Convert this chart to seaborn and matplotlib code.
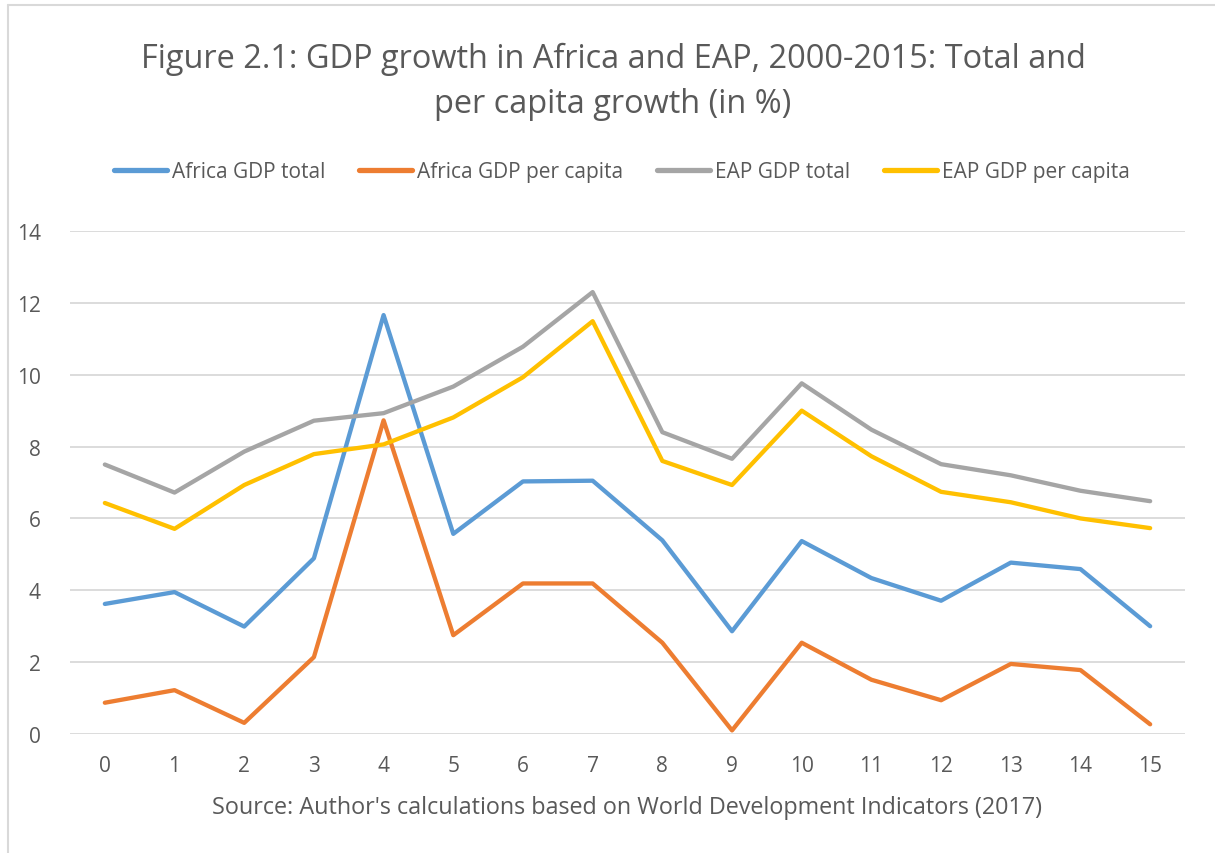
import numpy as np
import pandas as pd
import seaborn as sns
import matplotlib
matplotlib.use("Agg")
import matplotlib.pyplot as plt
from matplotlib.lines import Line2D

years = list(range(16))
africa_total = [3.62, 3.95, 2.99, 4.89, 11.66, 5.57, 7.03, 7.05, 5.39, 2.86, 5.37, 4.34, 3.71, 4.77, 4.59, 3.00]
africa_pc = [0.87, 1.22, 0.31, 2.14, 8.73, 2.75, 4.19, 4.19, 2.54, 0.10, 2.54, 1.51, 0.94, 1.95, 1.78, 0.27]
eap_total = [7.50, 6.72, 7.86, 8.72, 8.93, 9.67, 10.78, 12.30, 8.40, 7.66, 9.76, 8.47, 7.51, 7.20, 6.77, 6.48]
eap_pc = [6.43, 5.71, 6.93, 7.79, 8.06, 8.81, 9.93, 11.49, 7.60, 6.93, 9.00, 7.73, 6.74, 6.45, 6.00, 5.73]
series_names = ["Africa GDP total", "Africa GDP per capita", "EAP GDP total", "EAP GDP per capita"]
colors = ["#5B9BD5", "#ED7D31", "#A5A5A5", "#FFC000"]

df = pd.DataFrame({
    "year": years * 4,
    "value": africa_total + africa_pc + eap_total + eap_pc,
    "series": sum([[n] * len(years) for n in series_names], []),
})

sns.set_theme(style="white")
plt.rcParams['font.family'] = ['Open Sans', 'DejaVu Sans']

fig = plt.figure(figsize=(12.15, 8.54), dpi=100)
ax = fig.add_axes([70/1215, 1-735/854, (1185-70)/1215, (735-232)/854])

sns.lineplot(data=df, x="year", y="value", hue="series", hue_order=series_names,
             palette=colors, linewidth=3.1, ax=ax, legend=True)
for line in ax.get_lines():
    line.set_solid_capstyle('round')
    line.set_solid_joinstyle('round')

ax.set_xlim(-0.5, 15.5)
ax.set_ylim(0, 14)
ax.set_xticks(years)
ax.set_yticks(range(0, 15, 2))
ax.grid(axis='y', color='#D9D9D9', linewidth=1.3)
ax.set_axisbelow(True)
for s in ax.spines.values():
    s.set_visible(False)
ax.tick_params(axis='both', colors='#595959', labelsize=15, length=0)
ax.tick_params(axis='x', pad=15)
ax.tick_params(axis='y', pad=21)
ax.set_ylabel("")
ax.set_xlabel("Source: Author's calculations based on World Development Indicators (2017)",
              fontsize=16.8, color='#595959', labelpad=14)

handles, labels = ax.get_legend_handles_labels()
leg = ax.legend(handles, labels, loc='center',
                bbox_to_anchor=(0.495, (1-173/854 - (1-735/854)) / ((735-232)/854)),
                bbox_transform=ax.transAxes, ncol=4, frameon=False, fontsize=15,
                handlelength=2.55, handletextpad=0.25, columnspacing=1.6, labelcolor='#595959')
for h in leg.get_lines():
    h.set_linewidth(3.8)
    h.set_solid_capstyle('round')

fig.text(613/1215, 1-82/854, "Figure 2.1: GDP growth in Africa and EAP, 2000-2015: Total and\nper capita growth (in %)",
         ha='center', va='center', fontsize=23.4, color='#595959', linespacing=1.5)

fig.lines.append(Line2D([8/1215, 1.0], [1-6/854, 1-6/854], transform=fig.transFigure,
                        color='#D9D9D9', linewidth=1.5))
fig.lines.append(Line2D([8/1215, 8/1215], [0.0, 1-6/854], transform=fig.transFigure,
                        color='#D9D9D9', linewidth=1.5))

fig.savefig("out.png", dpi=100)
